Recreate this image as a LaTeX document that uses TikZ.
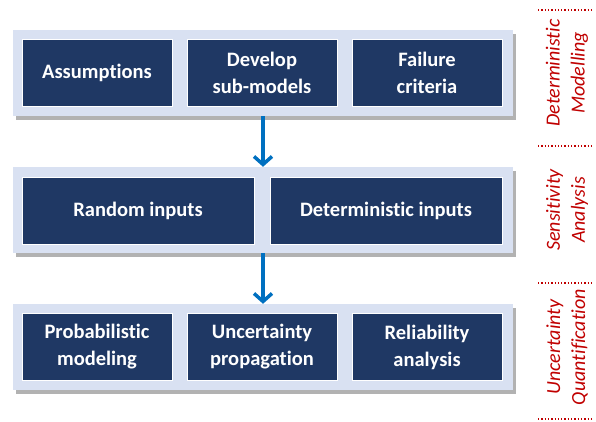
\documentclass[tikz,border=0pt]{standalone}
\usepackage{fontspec}
\setmainfont{Carlito}[Ligatures={NoCommon}]
\usetikzlibrary{arrows.meta,shadows}

\definecolor{panelblue}{RGB}{217,225,242}
\definecolor{boxblue}{RGB}{31,56,100}
\definecolor{arrowblue}{RGB}{0,112,192}
\definecolor{labelred}{RGB}{192,0,0}

\begin{document}
\begin{tikzpicture}[x=1pt,y=-1pt,
        panel/.style={fill=panelblue,minimum width=500pt,minimum height=86pt,inner sep=0pt,
            drop shadow={shadow xshift=3pt,shadow yshift=-4pt,fill=black,opacity=0.3}},
        box/.style={fill=boxblue,draw=white,line width=0.8pt,text=white,align=center,
            font=\fontsize{20.5}{27}\selectfont\bfseries,minimum height=67pt,inner sep=0pt},
        flow/.style={draw=arrowblue,line width=3.5pt,-{Straight Barb[length=8pt,width=18pt]}},
        stage/.style={rotate=90,text=labelred,align=center,font=\fontsize{20}{25}\selectfont\itshape},
        sep/.style={draw=labelred,line width=1.3pt,dotted}]
        \useasboundingbox (0,0) rectangle (596,421);

        % deterministic modelling
        \node[panel] (dm) at (263,73) {};
        \node[box,minimum width=150pt] (assume) at (97,73) {Assumptions};
        \node[box,minimum width=150pt] (submodel) at (262,73) {Develop\\sub-models};
        \node[box,minimum width=150pt] (failure) at (427,73) {Failure\\criteria};

        % sensitivity analysis
        \node[panel] (sa) at (263,210) {};
        \node[box,minimum width=232pt] (random) at (138,210.5) {Random inputs};
        \node[box,minimum width=232pt] (determ) at (386,210.5) {Deterministic inputs};

        % uncertainty quantification
        \node[panel] (uq) at (263,347) {};
        \node[box,minimum width=150pt] (prob) at (97,347) {Probabilistic\\modeling};
        \node[box,minimum width=150pt] (propag) at (262,347) {Uncertainty\\propagation};
        \node[box,minimum width=150pt] (reliab) at (427,347) {Reliability\\analysis};

        \draw[flow] (dm) -- (sa);
        \draw[flow] (sa) -- (uq);

        \node[stage] (dmlabel) at (567,73) {Deterministic\\Modelling};
        \node[stage] (salabel) at (567,210) {Sensitivity\\Analysis};
        \node[stage] (uqlabel) at (567,347) {Uncertainty\\Quantification};

        \foreach \y in {10,146,283,419}
            \draw[sep] (538,\y) -- (592,\y);
    \end{tikzpicture}
\end{document}
